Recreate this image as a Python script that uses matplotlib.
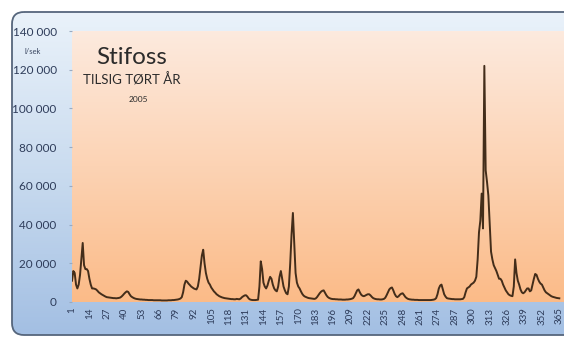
import numpy as np
import matplotlib
matplotlib.use("Agg")
import matplotlib.pyplot as plt
from matplotlib.patches import FancyBboxPatch
from matplotlib.colors import LinearSegmentedColormap
from matplotlib.ticker import FuncFormatter

# daily inflow, thousands of l/sek, day 1..365
inflow_k = [
    11, 16, 15, 9, 7, 9, 14, 22, 30.5, 19,
    17, 17, 16, 12, 9, 7, 7, 6.8, 6.5, 5.8,
    5, 4.5, 4, 3.6, 3.2, 2.8, 2.5, 2.4, 2.3, 2.2,
    2.1, 2.0, 2.0, 1.9, 2.0, 2.1, 2.3, 2.8, 3.5, 4.3,
    5.0, 5.5, 5.2, 4.0, 3.0, 2.5, 2.1, 1.8, 1.6, 1.5,
    1.4, 1.3, 1.3, 1.2, 1.2, 1.1, 1.1, 1.0, 1.0, 1.0,
    1.0, 0.9, 0.9, 0.9, 0.9, 0.9, 0.9, 0.8, 0.8, 0.8,
    0.8, 0.8, 0.9, 0.9, 0.9, 1.0, 1.0, 1.1, 1.2, 1.3,
    1.5, 1.8, 2.5, 5, 9, 11, 10.5, 9.5, 8.8, 8.0,
    7.5, 7.0, 6.7, 6.5, 8, 12, 18, 24, 27, 20,
    15, 12, 10, 9, 7.5, 6.5, 5.5, 4.8, 4.0, 3.5,
    3.0, 2.7, 2.4, 2.2, 2.0, 1.9, 1.8, 1.7, 1.6, 1.5,
    1.5, 1.4, 1.4, 1.6, 1.5, 1.4, 1.8, 2.5, 3.0, 3.4,
    3.5, 2.8, 1.8, 1.3, 1.1, 1.0, 1.0, 1.0, 1.1, 1.2,
    8, 21, 17, 10, 8, 7, 8.5, 11, 13, 12,
    9, 7, 6, 5.5, 8, 13, 16, 12, 8, 6,
    4.5, 4.0, 8, 20, 35, 46, 30, 15, 10, 8,
    7, 5.5, 4.2, 3.3, 2.8, 2.5, 2.2, 2.0, 1.9, 1.8,
    1.7, 1.6, 1.8, 2.5, 3.5, 4.5, 5.3, 5.8, 6.0, 4.8,
    3.5, 2.6, 2.1, 1.8, 1.6, 1.5, 1.5, 1.4, 1.4, 1.3,
    1.3, 1.3, 1.2, 1.2, 1.2, 1.3, 1.3, 1.4, 1.5, 1.7,
    2.0, 3.0, 4.5, 6.0, 6.5, 5.0, 3.8, 3.2, 3.0, 3.3,
    3.7, 4.0, 4.0, 3.4, 2.6, 2.0, 1.7, 1.5, 1.4, 1.4,
    1.3, 1.3, 1.4, 1.6, 2.2, 3.5, 5.0, 6.5, 7.2, 7.5,
    6.0, 4.2, 3.0, 2.5, 3.0, 3.8, 4.3, 4.5, 3.6, 2.6,
    2.0, 1.6, 1.4, 1.3, 1.2, 1.2, 1.1, 1.1, 1.1, 1.0,
    1.0, 1.0, 1.0, 1.0, 1.0, 1.0, 1.0, 1.0, 1.0, 1.1,
    1.2, 1.4, 2.0, 4.0, 7.0, 8.5, 9.0, 6.5, 4.0, 2.8,
    2.0, 1.8, 1.7, 1.6, 1.5, 1.5, 1.4, 1.4, 1.4, 1.4,
    1.4, 1.5, 1.6, 2.5, 5.0, 7.0, 7.5, 8.0, 9.0, 9.5,
    10, 11, 13, 22, 36, 42, 56, 38, 122, 68,
    62, 55, 40, 26, 22, 19, 17.5, 16, 14, 12,
    12, 11, 9, 7.5, 6, 5, 4, 3.5, 3.2, 3.0,
    8, 22, 15, 11, 9, 6.5, 5, 4.5, 5, 6,
    7, 7, 5.5, 6, 9, 12, 14.5, 14, 12, 10.5,
    9.5, 9, 7.5, 6, 5, 4.5, 4, 3.5, 3, 2.7,
    2.5, 2.3, 2.1, 2.0, 1.9,
]
days = np.arange(1, len(inflow_k) + 1)
inflow = np.array(inflow_k) * 1000

xtick_days = list(range(1, 366, 13))
ytick_vals = [0, 20000, 40000, 60000, 80000, 100000, 120000, 140000]

FONT = ['Lato', 'DejaVu Sans']
plt.rcParams['font.family'] = FONT

W, H = 564, 338
fig = plt.figure(figsize=(W / 100, H / 100), dpi=100)
fig.patch.set_facecolor('white')

# chart area background in pixel coords
bg = fig.add_axes([0, 0, 1, 1])
bg.axis('off')
frame = FancyBboxPatch((12, 12), 640, 323, boxstyle="round,pad=0,rounding_size=12",
                       fc='none', ec='#56667c', lw=1.3, zorder=3)
bg.add_patch(frame)
blue = LinearSegmentedColormap.from_list('b', ['#eaf2fa', '#c9dbef', '#a3bfe3'])
grad = np.linspace(0, 1, 256).reshape(-1, 1)
im = bg.imshow(grad, cmap=blue, extent=(12, 652, 335, 12), aspect='auto', zorder=1)
im.set_clip_path(frame)
bg.set_xlim(0, W)
bg.set_ylim(H, 0)

# plot area
x0, x1, ytop, ybot = 72, 564, 31, 302
ax = fig.add_axes([x0 / W, 1 - ybot / H, (x1 - x0) / W, (ybot - ytop) / H])
ax.set_facecolor('none')
peach = LinearSegmentedColormap.from_list('p', ['#fdeade', '#fcd3b4', '#fbbb88'])
xmin, xmax = 1, 368.5
ax.imshow(grad, cmap=peach, extent=(xmin, xmax, 0, 140000), aspect='auto', zorder=0)
ax.plot(days, inflow, color='#432d1a', lw=1.4, zorder=2)
ax.set_xlim(xmin, xmax)
ax.set_ylim(0, 140000)

for s in ax.spines.values():
    s.set_visible(False)
ax.set_yticks(ytick_vals)
ax.yaxis.set_major_formatter(FuncFormatter(lambda v, p: f"{v:,.0f}".replace(",", " ")))
ax.tick_params(axis='y', length=2, color='#9aaac0', labelsize=8.5, labelcolor='#2e3c5a', pad=9)
ax.set_xticks(xtick_days)
ax.set_xticklabels([str(d) for d in xtick_days], rotation=90)
ax.tick_params(axis='x', length=0, labelsize=7, labelcolor='#2e3c5a', pad=4)

# titles (figure-level so they sit above the plot background)
def ptext(x, y, s, **kw):
    fig.text(x / W, 1 - y / H, s, ha='center', va='center', zorder=10, **kw)

ptext(33, 51, 'l/sek', fontsize=5.5, color='#3a4660')
ptext(132, 58, 'Stifoss', fontsize=17.5, color='#2b2b2b')
ptext(132, 80, 'TILSIG TØRT ÅR', fontsize=9.5, color='#2b2b2b')
ptext(138, 99, '2005', fontsize=6, color='#2b2b2b')

fig.savefig('out.png', dpi=100)
